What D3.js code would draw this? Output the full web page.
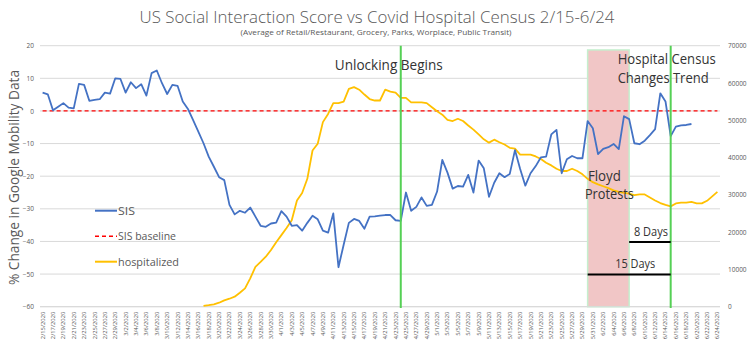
<!DOCTYPE html>
<html><head><meta charset="utf-8">
<script src="https://cdn.jsdelivr.net/npm/d3@7"></script>
<style>body{margin:0;background:#fff}svg{display:block;font-family:"Open Sans","Noto Sans",sans-serif}</style>
</head><body><svg id="c" width="750" height="355"></svg>
<script>
const dates = [
"2/15/2020","2/16/2020","2/17/2020","2/18/2020","2/19/2020","2/20/2020","2/21/2020","2/22/2020","2/23/2020","2/24/2020","2/25/2020","2/26/2020","2/27/2020","2/28/2020","2/29/2020",
"3/1/2020","3/2/2020","3/3/2020","3/4/2020","3/5/2020","3/6/2020","3/7/2020","3/8/2020","3/9/2020","3/10/2020","3/11/2020","3/12/2020","3/13/2020","3/14/2020","3/15/2020","3/16/2020","3/17/2020","3/18/2020","3/19/2020","3/20/2020","3/21/2020","3/22/2020","3/23/2020","3/24/2020","3/25/2020","3/26/2020","3/27/2020","3/28/2020","3/29/2020","3/30/2020","3/31/2020",
"4/1/2020","4/2/2020","4/3/2020","4/4/2020","4/5/2020","4/6/2020","4/7/2020","4/8/2020","4/9/2020","4/10/2020","4/11/2020","4/12/2020","4/13/2020","4/14/2020","4/15/2020","4/16/2020","4/17/2020","4/18/2020","4/19/2020","4/20/2020","4/21/2020","4/22/2020","4/23/2020","4/24/2020","4/25/2020","4/26/2020","4/27/2020","4/28/2020","4/29/2020","4/30/2020",
"5/1/2020","5/2/2020","5/3/2020","5/4/2020","5/5/2020","5/6/2020","5/7/2020","5/8/2020","5/9/2020","5/10/2020","5/11/2020","5/12/2020","5/13/2020","5/14/2020","5/15/2020","5/16/2020","5/17/2020","5/18/2020","5/19/2020","5/20/2020","5/21/2020","5/22/2020","5/23/2020","5/24/2020","5/25/2020","5/26/2020","5/27/2020","5/28/2020","5/29/2020","5/30/2020","5/31/2020",
"6/1/2020","6/2/2020","6/3/2020","6/4/2020","6/5/2020","6/6/2020","6/7/2020","6/8/2020","6/9/2020","6/10/2020","6/11/2020","6/12/2020","6/13/2020","6/14/2020","6/15/2020","6/16/2020","6/17/2020","6/18/2020","6/19/2020","6/20/2020","6/21/2020","6/22/2020","6/23/2020","6/24/2020"
];
const sis = [
5.6,5.1,0.2,1.3,2.4,1.0,0.8,8.3,8.0,3.1,3.4,3.6,5.6,5.3,10.0,9.8,5.6,8.8,7.0,8.2,
4.7,11.6,12.4,8.5,5.2,8.0,7.7,2.9,0.6,-2.8,-6.3,-9.9,-14.0,-17.1,-20.3,-21.2,-28.8,-31.7,-30.6,-31.2,
-29.6,-32.4,-35.2,-35.5,-34.5,-34.2,-30.7,-32.4,-35.2,-35.0,-36.7,-34.3,-32.1,-33.2,-36.7,-37.3,-31.4,-47.9,-41.0,-34.3,
-33.1,-33.7,-36.1,-32.4,-32.3,-32.1,-31.9,-31.9,-33.5,-33.7,-25.0,-30.6,-29.4,-26.5,-29.1,-28.8,-24.7,-15.0,-18.9,-23.8,
-23.0,-23.2,-19.6,-25.0,-15.2,-17.6,-26.3,-22.0,-19.1,-20.3,-19.3,-12.0,-17.8,-22.9,-19.1,-16.9,-14.2,-14.0,-7.2,-5.8,
-19.1,-14.8,-13.8,-14.5,-14.5,-3.1,-5.3,-13.2,-11.6,-11.1,-10.1,-11.7,-1.6,-2.5,-9.9,-10.2,-9.1,-7.4,-5.6,5.4,
2.9,-7.7,-4.8,-4.4,-4.3,-4.0
];
const hospitalized = [
null,null,null,null,null,null,null,null,null,null,null,null,null,null,null,null,null,null,null,null,
null,null,null,null,null,null,null,null,null,null,null,
200,400,640,1070,1700,2140,2680,3750,4900,7600,10700,12000,13400,15200,17300,19200,21100,23200,28500,
30500,34300,41900,43700,49500,51700,54600,54600,55000,58400,58900,58200,56900,55700,55300,55300,58200,57700,57400,56000,
56000,54800,54800,54800,54600,53500,52400,51500,50100,49800,50400,49800,48600,47500,46200,44900,44000,44800,44100,43500,
42600,42400,40800,40800,40800,40300,39600,38600,37900,37000,36400,36400,37000,36400,35500,34300,33400,32800,32300,31800,
31200,30800,30500,30300,29900,30100,30100,29300,28500,27800,27300,26900,27700,27900,27900,28100,27700,27700,28400,29600,
30800
];
const sisBaseline = 0;
const leftTicks = [-60,-50,-40,-30,-20,-10,0,10,20];
const rightTicks = [0,10000,20000,30000,40000,50000,60000,70000];
const unlockDate = "4/24/2020";
const trendDate = "6/15/2020";
const protestStart = "5/30/2020", protestEnd = "6/7/2020", protestTop = 18.7;
const spans = [
  {from:"6/7/2020", to:"6/15/2020", level:-40.2, label:"8 Days"},
  {from:"5/30/2020", to:"6/15/2020", level:-50.1, label:"15 Days"}
];
const titleText = "US Social Interaction Score vs Covid Hospital Census 2/15-6/24";
const subtitleText = "(Average of Retail/Restaurant, Grocery, Parks, Worplace, Public Transit)";
const yTitle = "% Change in Google Mobility Data";
const legendItems = [
  {label:"SIS", color:"#4472c4", dash:null},
  {label:"SIS baseline", color:"#ff0000", dash:"4,3"},
  {label:"hospitalized", color:"#ffc000", dash:null}
];

const svg = d3.select("#c");
const L = 40, R = 720, T = 45.7, B = 306.7;
const x = d3.scalePoint().domain(dates).range([L, R]).padding(0.5);
const yL = d3.scaleLinear().domain([-60, 20]).range([B, T]);
const yR = d3.scaleLinear().domain([0, 70000]).range([B, T]);
const grey = "#595959";

function fit(sel, w) { sel.attr("textLength", w).attr("lengthAdjust", "spacingAndGlyphs"); return sel; }

// title
fit(svg.append("text").attr("x", 377).attr("y", 22.5).attr("text-anchor", "middle")
  .attr("font-size", 17).attr("font-weight", 300).attr("fill", grey).text(titleText), 475);
fit(svg.append("text").attr("x", 376).attr("y", 35).attr("text-anchor", "middle")
  .attr("font-size", 8).attr("fill", grey).text(subtitleText), 271);

// grid
svg.append("g").selectAll("line").data(leftTicks).join("line")
  .attr("x1", L).attr("x2", R).attr("y1", d => yL(d)).attr("y2", d => yL(d))
  .attr("stroke", "#d9d9d9").attr("stroke-width", 1);

// protest band
svg.append("rect")
  .attr("x", x(protestStart)).attr("width", x(protestEnd) - x(protestStart))
  .attr("y", yL(protestTop)).attr("height", yL(-60) - yL(protestTop))
  .attr("fill", "#f1c6c6").attr("stroke", "#c6efce").attr("stroke-width", 1.5);

// left axis
const axL = svg.append("g").attr("transform", `translate(${L - 4},0)`)
  .call(d3.axisLeft(yL).tickValues(leftTicks).tickSize(0).tickPadding(2));
axL.select(".domain").remove();
axL.selectAll("text").attr("font-size", 6.5).attr("fill", grey).attr("font-family", "Open Sans, sans-serif");

// right axis
const axR = svg.append("g").attr("transform", `translate(${R + 6},0)`)
  .call(d3.axisRight(yR).tickValues(rightTicks).tickSize(0).tickPadding(2).tickFormat(d3.format("d")));
axR.select(".domain").remove();
axR.selectAll("text").attr("font-size", 6.5).attr("fill", grey).attr("font-family", "Open Sans, sans-serif");

// bottom axis line
svg.append("line").attr("x1", L).attr("x2", R).attr("y1", B).attr("y2", B).attr("stroke", "#d9d9d9");

// x labels
svg.append("g").selectAll("text").data(dates.filter((d, i) => i % 2 === 0)).join("text")
  .attr("transform", d => `translate(${x(d) + 2},${B + 5}) rotate(-90)`)
  .attr("text-anchor", "end").attr("font-size", 5.8).attr("fill", grey).text(d => d);

// y title
fit(svg.append("text").attr("transform", `translate(19,${(70 + 285) / 2}) rotate(-90)`)
  .attr("text-anchor", "middle").attr("font-size", 15).attr("fill", grey).text(yTitle), 215);

// baseline
svg.append("path").datum(dates)
  .attr("d", d3.line().x(d => x(d)).y(() => yL(sisBaseline)))
  .attr("fill", "none").attr("stroke", "#ff0000").attr("stroke-width", 1.3).attr("stroke-dasharray", "4,3");

// hospitalized
svg.append("path").datum(hospitalized.map((v, i) => [dates[i], v]))
  .attr("d", d3.line().defined(d => d[1] != null).x(d => x(d[0])).y(d => yR(d[1])))
  .attr("fill", "none").attr("stroke", "#ffc000").attr("stroke-width", 1.8).attr("stroke-linejoin", "round");

// SIS
svg.append("path").datum(sis.map((v, i) => [dates[i], v]))
  .attr("d", d3.line().x(d => x(d[0])).y(d => yL(d[1])))
  .attr("fill", "none").attr("stroke", "#4472c4").attr("stroke-width", 1.8).attr("stroke-linejoin", "round");

// green lines
[unlockDate, trendDate].forEach(d => {
  svg.append("line").attr("x1", x(d)).attr("x2", x(d)).attr("y1", yL(20)).attr("y2", yL(-60.4))
    .attr("stroke", "#55d055").attr("stroke-width", 2);
});

// annotations
const ann = "#333333";
fit(svg.append("text").attr("x", x(unlockDate) - 66).attr("y", 70).attr("font-size", 14).attr("fill", ann).text("Unlocking Begins"), 108);
fit(svg.append("text").attr("x", x(trendDate) - 53).attr("y", 64).attr("font-size", 14).attr("fill", ann).text("Hospital Census"), 98);
fit(svg.append("text").attr("x", x(trendDate) - 53).attr("y", 83).attr("font-size", 14).attr("fill", ann).text("Changes Trend"), 91);
const bandMid = (x(protestStart) + x(protestEnd)) / 2;
fit(svg.append("text").attr("x", bandMid - 4).attr("y", 180.5).attr("text-anchor", "middle").attr("font-size", 14).attr("fill", ann).text("Floyd"), 33);
fit(svg.append("text").attr("x", bandMid + 1).attr("y", 199.3).attr("text-anchor", "middle").attr("font-size", 14).attr("fill", ann).text("Protests"), 49);

spans.forEach(s => {
  svg.append("line").attr("x1", x(s.from)).attr("x2", x(s.to)).attr("y1", yL(s.level)).attr("y2", yL(s.level))
    .attr("stroke", "#000").attr("stroke-width", 2);
  const tx = s.label === "8 Days" ? (x(s.from) + x(s.to)) / 2 + 1 : (x(s.from) + x(s.to)) / 2 + 6;
  fit(svg.append("text").attr("x", tx).attr("y", yL(s.level) - 6).attr("text-anchor", "middle")
    .attr("font-size", 12).attr("fill", ann).text(s.label), s.label === "8 Days" ? 34 : 40);
});

// legend
legendItems.forEach((it, i) => {
  const ly = 210.7 + i * 25.5;
  svg.append("line").attr("x1", 95).attr("x2", 117).attr("y1", ly).attr("y2", ly)
    .attr("stroke", it.color).attr("stroke-width", it.dash ? 1.5 : 2).attr("stroke-dasharray", it.dash);
  const t = svg.append("text").attr("x", 118).attr("y", ly + 4).attr("font-size", 11).attr("fill", grey).text(it.label);
  fit(t, [17, 58, 61][i]);
});
</script></body></html>
